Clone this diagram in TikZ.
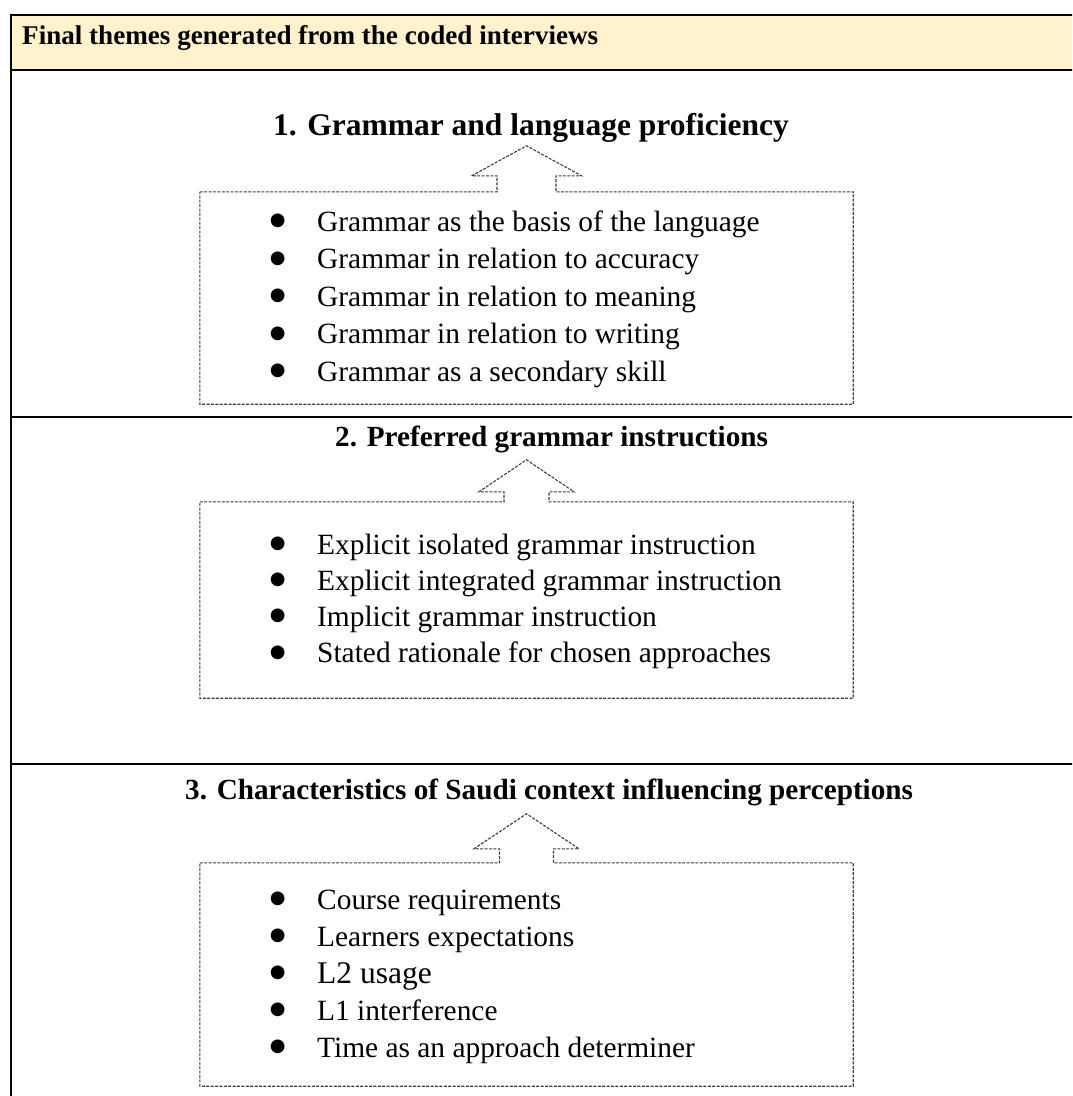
\documentclass[tikz,border=0pt]{standalone}
\usepackage{fontspec}
\setmainfont{Liberation Serif}
\newfontfamily\dotfont{DejaVu Sans}
\usetikzlibrary{calc}
\definecolor{headfill}{HTML}{FFF2CC}
\definecolor{dashgray}{HTML}{3C3C3C}

% dashed list frame whose top edge rises into an upward block arrow
% #1 box node, #2 apex rise, #3 wing rise, #4 wing half width, #5 shaft half width
\newcommand\listframe[5]{%
  \draw[dashbox] (#1.north west)
    -- ($(#1.north)+(-#5,0)$) -- ($(#1.north)+(-#5,-#3)$)
    -- ($(#1.north)+(-#4,-#3)$) -- ($(#1.north)+(0,-#2)$)
    -- ($(#1.north)+(#4,-#3)$) -- ($(#1.north)+(#5,-#3)$)
    -- ($(#1.north)+(#5,0)$) -- (#1.north east)
    -- (#1.south east) -- (#1.south west) -- cycle;}

% round bullet followed by the item text
\newcommand\bul{\makebox[47.4pt][l]{\raisebox{5.5pt}{\dotfont\fontsize{18}{18}\selectfont ●}}}

\begin{document}
\begin{tikzpicture}[x=1pt,y=-1pt,
  frame/.style={line width=2.2pt},
  dashbox/.style={draw=dashgray, line width=1.1pt, dash pattern=on 3pt off 1.4pt},
  heading/.style={font=\fontsize{27.1}{32}\selectfont\bfseries, anchor=base west, inner sep=0},
  theme/.style={font=\fontsize{29.2}{34}\selectfont\bfseries, anchor=base west, inner sep=0},
  item/.style={font=\fontsize{29.4}{34}\selectfont, anchor=base west, inner sep=0},
  area/.style={inner sep=0, draw=none, minimum width=653pt}]
\useasboundingbox (0,0) rectangle (1072,1096);
\clip (0,0) rectangle (1072,1096);

% table frame with shaded header row
\fill[headfill] (11,15) rectangle (1100,70);
\draw[frame] (1100,15) -- (11,15) -- (11,1110);
\draw[frame] (11,70) -- (1100,70);
\draw[frame] (11,417) -- (1100,417);
\draw[frame] (11,764) -- (1100,764);

\node[heading] (head) at (22,44) {Final themes generated from the coded interviews};

% theme 1
\node[theme, font=\fontsize{31.5}{36}\selectfont\bfseries] (t1) at (273,135) {1. Grammar and language proficiency};
\node[area, minimum height=212pt] (b1) at (526.5,298) {};
\listframe{b1}{46}{16}{55}{29.5}
\foreach \txt [count=\i from 0] in {Grammar as the basis of the language,
    Grammar in relation to accuracy, Grammar in relation to meaning,
    Grammar in relation to writing, Grammar as a secondary skill}
  \node[item] (s1-\i) at (269.6,231+37.5*\i) {\bul\txt};

% theme 2
\node[theme] (t2) at (335,446) {2. Preferred grammar instructions};
\node[area, minimum height=196pt] (b2) at (526.5,600) {};
\listframe{b2}{42}{10}{47.5}{22.5}
\foreach \txt [count=\i from 0] in {Explicit isolated grammar instruction,
    Explicit integrated grammar instruction, Implicit grammar instruction,
    Stated rationale for chosen approaches}
  \node[item] (s2-\i) at (269.6,554+36.2*\i) {\bul\txt};

% theme 3
\node[theme] (t3) at (185,799) {3. Characteristics of Saudi context influencing perceptions};
\node[area, minimum height=223pt] (b3) at (526.5,974.5) {};
\listframe{b3}{49}{14}{52.5}{27}
\node[item] (s3-0) at (269.6,909) {\bul Course requirements};
\node[item] (s3-1) at (269.6,946) {\bul Learners expectations};
\node[item] (s3-2) at (269.6,983) {\bul{\fontsize{31.5}{34}\selectfont L2 usage}};
\node[item] (s3-3) at (269.6,1020) {\bul L1 interference};
\node[item] (s3-4) at (269.6,1057) {\bul Time as an approach determiner};
\end{tikzpicture}
\end{document}
